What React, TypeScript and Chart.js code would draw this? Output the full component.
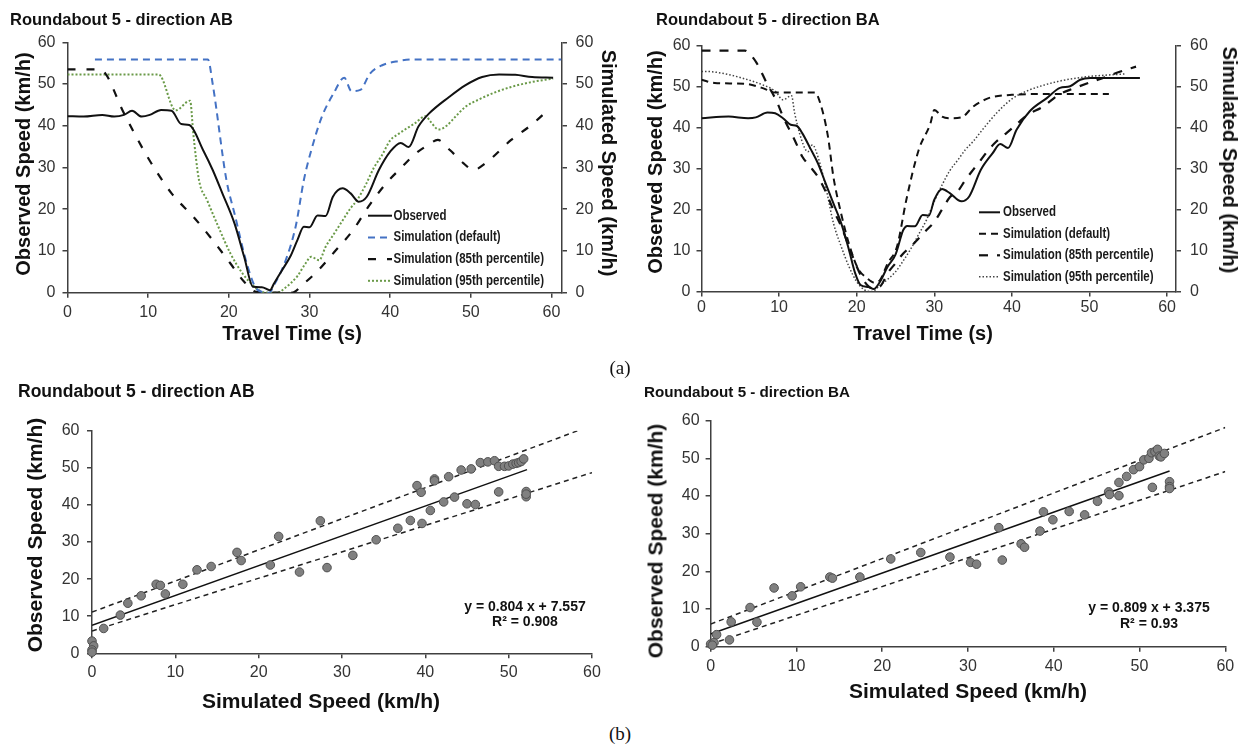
import React, { useEffect, useRef } from 'react';
import { Chart, registerables } from 'chart.js';
Chart.register(...registerables);

// ---------- (a) left: Roundabout 5 - direction AB, speed vs travel time ----------
const abObsT = [0, 2, 4.3, 5.8, 7, 8, 9.2, 10.2, 11.6, 12.9, 14.1, 15.1, 16.8, 18, 19.2, 20.7, 21.9, 23, 24.1, 25.1, 25.6, 26.6, 27.6, 28.5, 29.3, 30, 31, 32, 32.9, 34.1, 35.1, 36.1, 37.1, 38.6, 40, 41.3, 42.3, 43.5, 44.8, 47.3, 49.3, 51.4, 53.5, 55.5, 57.6, 60.2];
const abObsV = [42.3, 42.2, 42.6, 42.2, 42.6, 43.6, 42.2, 42.6, 43.8, 43.6, 40.4, 40.2, 34.2, 29.4, 23.8, 16.6, 8.6, 1.4, 1.3, 0.6, 2.2, 5.4, 8.6, 12.6, 15.8, 15.7, 18.5, 18.4, 23, 25, 23.8, 21.8, 23, 29.4, 33.8, 35.9, 34.9, 39.8, 42.9, 46.9, 49.7, 51.7, 52.3, 52.2, 51.7, 51.5];
const abDefT = [3.4, 17.4, 18, 19.7, 20.7, 22.3, 23.5, 25, 25.6, 27, 28.3, 29.3, 30.2, 31.5, 33, 34.3, 35.2, 36.3, 37.5, 39, 41, 43, 61.2];
const abDefV = [55.9, 55.9, 50, 27, 19, 6.5, 0.8, 0, 1.8, 7.5, 16, 27, 34, 42, 47.8, 51.5, 48.3, 48.6, 52.5, 54.5, 55.5, 55.9, 55.9];
const ab85T = [0, 3.5, 4.7, 6.8, 9.9, 12.9, 15.6, 18, 20.2, 21.9, 23.4, 26, 27.8, 29.3, 31, 33.1, 35.4, 37.3, 39.5, 41.3, 43.2, 44.7, 45.9, 47.4, 49.1, 50.3, 51.8, 55, 57.5, 59.6];
const ab85V = [53.5, 53.5, 52.5, 43.8, 32.6, 23.8, 18.2, 12.6, 7, 2.6, 0.2, 0, 0, 2.2, 5.2, 9.8, 15, 20.6, 26.2, 29.8, 33.4, 35.4, 36.6, 34.2, 31, 29.4, 31, 36.6, 40.2, 43.8];
const ab95T = [0, 11.3, 13.4, 15.2, 15.6, 16.3, 17.3, 18.7, 20.2, 21.7, 23.2, 24, 25, 26, 27, 28.5, 29.5, 30.2, 31.2, 32, 33, 34, 35, 36, 37, 38, 39, 40, 41, 42, 43, 44.4, 45, 46, 47, 48, 49.3, 51, 53, 55, 57.6, 60.2];
const ab95V = [52.3, 52.3, 43.7, 46, 38, 27, 22.2, 15.8, 9.4, 4.6, 1.4, 0.3, 0, 0, 1.2, 4, 7, 8.6, 7.8, 11, 14, 17, 20, 22.5, 26, 30, 33, 36.5, 38, 39.3, 40.5, 42.3, 41, 39.1, 40, 42, 44.5, 46.3, 48, 49.3, 50.5, 51.3];

// ---------- (a) right: Roundabout 5 - direction BA ----------
const baObsT = [0, 3.5, 6, 7, 8.5, 9.5, 10.5, 11.5, 12.3, 13, 14, 15, 16, 17, 18, 19, 19.8, 20.5, 21.5, 22.2, 23, 24, 25, 26, 26.5, 27.5, 28.5, 29.3, 30, 31, 32, 33.5, 34.5, 36, 37.5, 38.5, 39.5, 40.6, 42.3, 44.5, 46.2, 47.5, 48.8, 50.1, 56.5];
const baObsV = [42.3, 42.7, 42.3, 42.5, 43.7, 43.5, 42.3, 40.7, 40.4, 38.6, 35, 31.3, 26.4, 21.5, 16.7, 10.2, 4.5, 1.6, 1.1, 0.6, 2.4, 6.1, 9, 15, 16, 15.9, 18.7, 18.5, 22.4, 25, 24, 22, 23.2, 29.7, 33.7, 36, 35, 39.5, 44, 47.2, 49.7, 50.1, 51.7, 52.1, 52.1];
const baDefT = [0, 1.7, 5.6, 7.8, 9.5, 14.6, 15.3, 16.3, 17, 18, 19.1, 20.2, 21.3, 22.2, 23, 24, 25.2, 26.4, 28, 29.5, 30, 31, 32, 33.5, 35, 37, 40, 43, 52.5];
const baDefV = [51.7, 50.9, 50.7, 49.7, 48.6, 48.6, 46, 37.8, 28, 19, 11, 5.5, 3.3, 2.2, 2.8, 6.9, 11, 22.4, 34.6, 41, 44.3, 42.7, 42.3, 42.5, 45.1, 47.2, 48, 48.2, 48.2];
const ba85T = [0, 5.6, 6.1, 7.1, 8.4, 9.7, 10.5, 12, 13, 14, 15, 16, 17, 18, 19, 20, 21, 22, 23, 24, 25, 26, 27, 28, 29, 30, 31, 32, 33, 34, 35, 36, 37, 38, 39, 40, 41, 42, 44, 46, 48, 50, 52, 54, 56];
const ba85V = [58.8, 58.8, 58.2, 55.8, 50.9, 46.4, 42.7, 37, 32.9, 30.5, 28, 24.4, 19.9, 15.9, 11, 6.1, 2.4, 0.8, 1.2, 4.5, 6.9, 9.3, 11, 13, 15, 17, 20, 23, 24.4, 27.2, 29.7, 32.1, 34.6, 36.6, 38.2, 39.8, 41.5, 43.1, 45.1, 48, 49.6, 51, 52.3, 53.7, 54.9];
const ba95T = [0, 0.7, 2.6, 5.6, 7.8, 9.5, 10.5, 11.6, 12, 12.9, 13.7, 14.3, 15, 16, 17, 18, 19, 20, 21, 22, 23, 24, 25, 26, 27, 28, 29, 30, 31, 32, 33, 34, 35, 36, 38, 40, 42, 44, 46, 48, 50, 52, 54.5];
const ba95V = [53.7, 53.7, 53.3, 51.9, 50.5, 48.9, 46.8, 47.8, 43.6, 37, 34.1, 35.8, 32.9, 25.6, 16.7, 11, 6.1, 2.4, 0.4, 0, 1.5, 3, 4.8, 7.5, 10.5, 14, 17.5, 22, 26, 29.5, 32, 34.6, 36.6, 39, 43.5, 47, 49, 50.3, 51.3, 52, 52.5, 52.8, 53.1];

// ---------- (b) scatter: simulated vs observed ----------
const abSimX = [0, 0.2, 0, 0, 1.4, 3.4, 4.3, 5.9, 7.7, 8.2, 8.8, 10.9, 12.6, 14.3, 17.4, 17.9, 21.4, 22.4, 24.9, 27.4, 28.2, 31.3, 34.1, 36.7, 38.2, 39.6, 39.0, 39.5, 40.6, 41.1, 41.1, 42.2, 42.8, 43.5, 44.3, 45, 45.5, 46, 46.6, 47.5, 48.3, 48.8, 48.8, 49.5, 50, 50.5, 50.9, 51.2, 51.5, 51.8, 52.1, 52.1, 52.1];
const abObsY = [3.3, 2.0, 0.9, 0.3, 6.7, 10.3, 13.5, 15.5, 18.6, 18.3, 16, 18.6, 22.5, 23.4, 27.2, 25, 23.8, 31.5, 21.9, 35.7, 23.1, 26.4, 30.6, 33.7, 35.8, 35, 45.2, 43.4, 38.5, 47, 46.5, 40.8, 47.6, 42.1, 49.4, 40.3, 49.7, 40.1, 51.4, 51.6, 51.9, 43.5, 50.4, 50.4, 50.5, 51, 51.2, 51.4, 51.7, 52.4, 43.6, 42.2, 42.9];
const abFitX = [0, 52.2];
const abFitY = [7.56, 49.5];
const abUpX = [0, 58.3];
const abUpY = [11.1, 60];
const abLoX = [0, 60];
const abLoY = [6.0, 48.7];

const baSimX = [0, 0.4, 0.2, 0.7, 2.2, 2.4, 4.6, 5.4, 7.4, 9.5, 10.5, 13.9, 14.2, 17.4, 21, 24.5, 27.9, 30.3, 31, 33.6, 34, 36.2, 36.6, 38.4, 38.8, 39.9, 41.8, 43.6, 45.1, 46.4, 46.5, 47.6, 47.6, 48.5, 49.3, 50, 50.5, 51.1, 51.4, 51.5, 51.8, 52.1, 52.3, 52.5, 52.9, 53.5, 53.5, 53.5];
const baObsY = [0.7, 1.1, 0.4, 3.2, 1.8, 6.6, 10.4, 6.5, 15.6, 13.5, 15.9, 18.5, 18.2, 18.5, 23.3, 25, 23.8, 22.4, 21.9, 31.6, 23, 27.3, 26.4, 30.7, 35.8, 33.7, 35.9, 35, 38.6, 41.1, 40.4, 43.6, 40.1, 45.2, 47, 47.8, 49.6, 50, 51.5, 42.3, 51.8, 52.4, 50.6, 50.4, 51.3, 43.8, 42.5, 42];
const baFitX = [0, 53.5];
const baFitY = [3.38, 46.66];
const baUpX = [0, 60];
const baUpY = [6.0, 58.2];
const baLoX = [0, 60];
const baLoY = [0.7, 46.5];

const seriesNames = ['Observed', 'Simulation (default)', 'Simulation (85th percentile)', 'Simulation (95th percentile)'];

const SANS = "'Liberation Sans', Arial, Helvetica, sans-serif";
const AX = '#404040';

const pts = (xs: number[], ys: number[]) => xs.map((x, i) => ({ x, y: ys[i] }));

function linAxis(o: { min: number; max: number; pos?: string; size: number; pad: number; horizontal: boolean }) {
  return {
    type: 'linear',
    position: o.pos,
    min: o.min,
    max: o.max,
    ticks: { stepSize: 10, includeBounds: false, padding: o.pad, color: '#333', font: { family: SANS, size: 16 }, maxRotation: 0, autoSkip: false },
    grid: { display: true, drawOnChartArea: false, drawTicks: true, tickLength: 5, color: AX, lineWidth: 1.5 },
    border: { display: true, color: AX, width: 1.5 },
    afterFit: (s: any) => {
      if (o.horizontal) s.height = o.size;
      else s.width = o.size;
    },
  } as any;
}

// legend drawn inside the plot; text is horizontally condensed to mimic a narrow bold face
function inlineLegend(x: number, y: number, dy: number, w: number, gap: number) {
  return {
    id: 'inlineLegend',
    afterDraw(chart: any) {
      const ctx = chart.ctx;
      chart.data.datasets.forEach((ds: any, i: number) => {
        const yy = y + i * dy;
        ctx.save();
        ctx.strokeStyle = ds.borderColor;
        ctx.lineWidth = ds.borderWidth;
        ctx.setLineDash(ds.borderDash || []);
        ctx.beginPath();
        ctx.moveTo(x, yy);
        ctx.lineTo(x + w, yy);
        ctx.stroke();
        ctx.restore();
        ctx.save();
        ctx.translate(x + w + gap, yy);
        ctx.scale(0.82, 1);
        ctx.fillStyle = '#1a1a1a';
        ctx.font = `bold 14px ${SANS}`;
        ctx.textBaseline = 'middle';
        ctx.textAlign = 'left';
        ctx.fillText(ds.label, 0, 0);
        ctx.restore();
      });
    },
  };
}

type Style = { color: string; width: number; dash: number[] };

function timeChart(
  canvas: HTMLCanvasElement,
  series: { t: number[]; v: number[]; axis: string; style: Style }[],
  geo: { top: number; xmax: number; xh: number; xpad: number; yw: number; ypad: number; y1w: number; y1pad: number },
  legend: any
) {
  return new Chart(canvas, {
    type: 'line',
    data: {
      datasets: series.map((s, i) => ({
        label: seriesNames[i],
        data: pts(s.t, s.v),
        yAxisID: s.axis,
        borderColor: s.style.color,
        borderWidth: s.style.width,
        borderDash: s.style.dash,
        cubicInterpolationMode: 'monotone',
        pointRadius: 0,
        fill: false,
      })) as any,
    },
    options: {
      responsive: false,
      animation: false,
      layout: { padding: { top: geo.top, left: 0, right: 0, bottom: 0 } },
      plugins: { legend: { display: false }, tooltip: { enabled: false } },
      scales: {
        x: linAxis({ min: 0, max: geo.xmax, size: geo.xh, pad: geo.xpad, horizontal: true }),
        y: linAxis({ min: 0, max: 60, pos: 'left', size: geo.yw, pad: geo.ypad, horizontal: false }),
        y1: linAxis({ min: 0, max: 60, pos: 'right', size: geo.y1w, pad: geo.y1pad, horizontal: false }),
      },
    } as any,
    plugins: [legend],
  });
}

function scatterChart(
  canvas: HTMLCanvasElement,
  d: { sx: number[]; oy: number[]; fx: number[]; fy: number[]; ux: number[]; uy: number[]; lx: number[]; ly: number[] },
  geo: { top: number; right: number; xh: number; xpad: number; yw: number; ypad: number }
) {
  const dashed = { borderColor: '#222', borderWidth: 1.5, borderDash: [5, 4], pointRadius: 0, showLine: true, fill: false };
  return new Chart(canvas, {
    type: 'scatter',
    data: {
      datasets: [
        { data: pts(d.sx, d.oy), pointRadius: 4.3, backgroundColor: '#808080', borderColor: '#505050', borderWidth: 1, clip: false },
        { data: pts(d.fx, d.fy), borderColor: '#111', borderWidth: 1.5, pointRadius: 0, showLine: true, fill: false },
        { data: pts(d.ux, d.uy), ...dashed },
        { data: pts(d.lx, d.ly), ...dashed },
      ] as any,
    },
    options: {
      responsive: false,
      animation: false,
      layout: { padding: { top: geo.top, left: 0, right: geo.right, bottom: 0 } },
      plugins: { legend: { display: false }, tooltip: { enabled: false } },
      scales: {
        x: linAxis({ min: 0, max: 60, size: geo.xh, pad: geo.xpad, horizontal: true }),
        y: linAxis({ min: 0, max: 60, pos: 'left', size: geo.yw, pad: geo.ypad, horizontal: false }),
      },
    } as any,
  });
}

function ChartCanvas({ left, top, width, height, build }: { left: number; top: number; width: number; height: number; build: (c: HTMLCanvasElement) => Chart }) {
  const ref = useRef<HTMLCanvasElement>(null);
  useEffect(() => {
    const chart = build(ref.current as HTMLCanvasElement);
    return () => chart.destroy();
  }, []);
  return <canvas ref={ref} width={width} height={height} style={{ position: 'absolute', left, top, width, height }} />;
}

function Txt({ x, y, s, size, bold = true, rot = 0, anchor = 'center', family = SANS }: { x: number; y: number; s: string; size: number; bold?: boolean; rot?: number; anchor?: string; family?: string }) {
  const tx = anchor === 'left' ? '0' : '-50%';
  return (
    <div
      style={{
        position: 'absolute',
        left: x,
        top: y,
        transform: `translate(${tx},-50%) rotate(${rot}deg)`,
        transformOrigin: 'center',
        font: `${bold ? 'bold ' : ''}${size}px ${family}`,
        whiteSpace: 'nowrap',
        lineHeight: 1,
        color: '#111',
      }}
    >
      {s}
    </div>
  );
}

const abStyles: Style[] = [
  { color: '#111', width: 2, dash: [] },
  { color: '#4472C4', width: 2, dash: [7, 5] },
  { color: '#111', width: 2.2, dash: [8, 11] },
  { color: '#6a9a48', width: 2, dash: [2, 2] },
];
const baStyles: Style[] = [
  { color: '#111', width: 2, dash: [] },
  { color: '#111', width: 2, dash: [7, 5] },
  { color: '#111', width: 2.2, dash: [9, 9] },
  { color: '#444', width: 1.5, dash: [1.5, 2] },
];

export default function App() {
  return (
    <div style={{ position: 'absolute', left: 0, top: 0, width: 1240, height: 744, background: '#fff', overflow: 'hidden' }}>
      <ChartCanvas
        left={0}
        top={0}
        width={620}
        height={345}
        build={(c) =>
          timeChart(
            c,
            [
              { t: abObsT, v: abObsV, axis: 'y', style: abStyles[0] },
              { t: abDefT, v: abDefV, axis: 'y1', style: abStyles[1] },
              { t: ab85T, v: ab85V, axis: 'y1', style: abStyles[2] },
              { t: ab95T, v: ab95V, axis: 'y1', style: abStyles[3] },
            ],
            { top: 42.3, xmax: 61.3, xh: 52.3, xpad: 5, yw: 67.5, ypad: 7, y1w: 58, y1pad: 8.5 },
            inlineLegend(368, 215.7, 21.7, 24, 1.5)
          )
        }
      />
      <ChartCanvas
        left={620}
        top={0}
        width={620}
        height={345}
        build={(c) =>
          timeChart(
            c,
            [
              { t: baObsT, v: baObsV, axis: 'y', style: baStyles[0] },
              { t: baDefT, v: baDefV, axis: 'y1', style: baStyles[1] },
              { t: ba85T, v: ba85V, axis: 'y1', style: baStyles[2] },
              { t: ba95T, v: ba95V, axis: 'y1', style: baStyles[3] },
            ],
            { top: 45.7, xmax: 61.15, xh: 53.5, xpad: 1, yw: 81.5, ypad: 6, y1w: 64, y1pad: 9 },
            inlineLegend(359, 212.3, 21.5, 21, 3)
          )
        }
      />
      <ChartCanvas
        left={0}
        top={400}
        width={620}
        height={320}
        build={(c) =>
          scatterChart(
            c,
            { sx: abSimX, oy: abObsY, fx: abFitX, fy: abFitY, ux: abUpX, uy: abUpY, lx: abLoX, ly: abLoY },
            { top: 30.7, right: 28, xh: 66.7, xpad: 4.5, yw: 92, ypad: 7.5 }
          )
        }
      />
      <ChartCanvas
        left={620}
        top={400}
        width={620}
        height={320}
        build={(c) =>
          scatterChart(
            c,
            { sx: baSimX, oy: baObsY, fx: baFitX, fy: baFitY, ux: baUpX, uy: baUpY, lx: baLoX, ly: baLoY },
            { top: 20.7, right: 14.7, xh: 73.3, xpad: 5.3, yw: 90.6, ypad: 6 }
          )
        }
      />

      <Txt x={10} y={19} s="Roundabout 5 - direction AB" size={16.5} anchor="left" />
      <Txt x={656} y={19} s="Roundabout 5 - direction BA" size={16.5} anchor="left" />
      <Txt x={22.5} y={164} s="Observed Speed (km/h)" size={20} rot={-90} />
      <Txt x={609} y={163} s="Simulated Speed (km/h)" size={20} rot={90} />
      <Txt x={292} y={333} s="Travel Time (s)" size={20} />
      <Txt x={654.7} y={162} s="Observed Speed (km/h)" size={20} rot={-90} />
      <Txt x={1230} y={160} s="Simulated Speed (km/h)" size={20} rot={90} />
      <Txt x={923} y={333} s="Travel Time (s)" size={20} />

      <Txt x={620} y={367} s="(a)" size={19} bold={false} family="'Liberation Serif', 'DejaVu Serif', serif" />

      <Txt x={18} y={392} s="Roundabout 5 - direction AB" size={17.5} anchor="left" />
      <Txt x={644} y={392} s="Roundabout 5 - direction BA" size={15.2} anchor="left" />
      <Txt x={34} y={535} s="Observed Speed (km/h)" size={21} rot={-90} />
      <Txt x={321} y={700} s="Simulated Speed (km/h)" size={21} />
      <Txt x={655} y={541} s="Observed Speed (km/h)" size={21} rot={-90} />
      <Txt x={968} y={690} s="Simulated Speed (km/h)" size={21} />
      <Txt x={525} y={606} s="y = 0.804 x + 7.557" size={14} />
      <Txt x={525} y={621} s="R² = 0.908" size={14} />
      <Txt x={1149} y={607} s="y = 0.809 x + 3.375" size={14} />
      <Txt x={1149} y={623} s="R² = 0.93" size={14} />

      <Txt x={620} y={733} s="(b)" size={19} bold={false} family="'Liberation Serif', 'DejaVu Serif', serif" />
    </div>
  );
}
